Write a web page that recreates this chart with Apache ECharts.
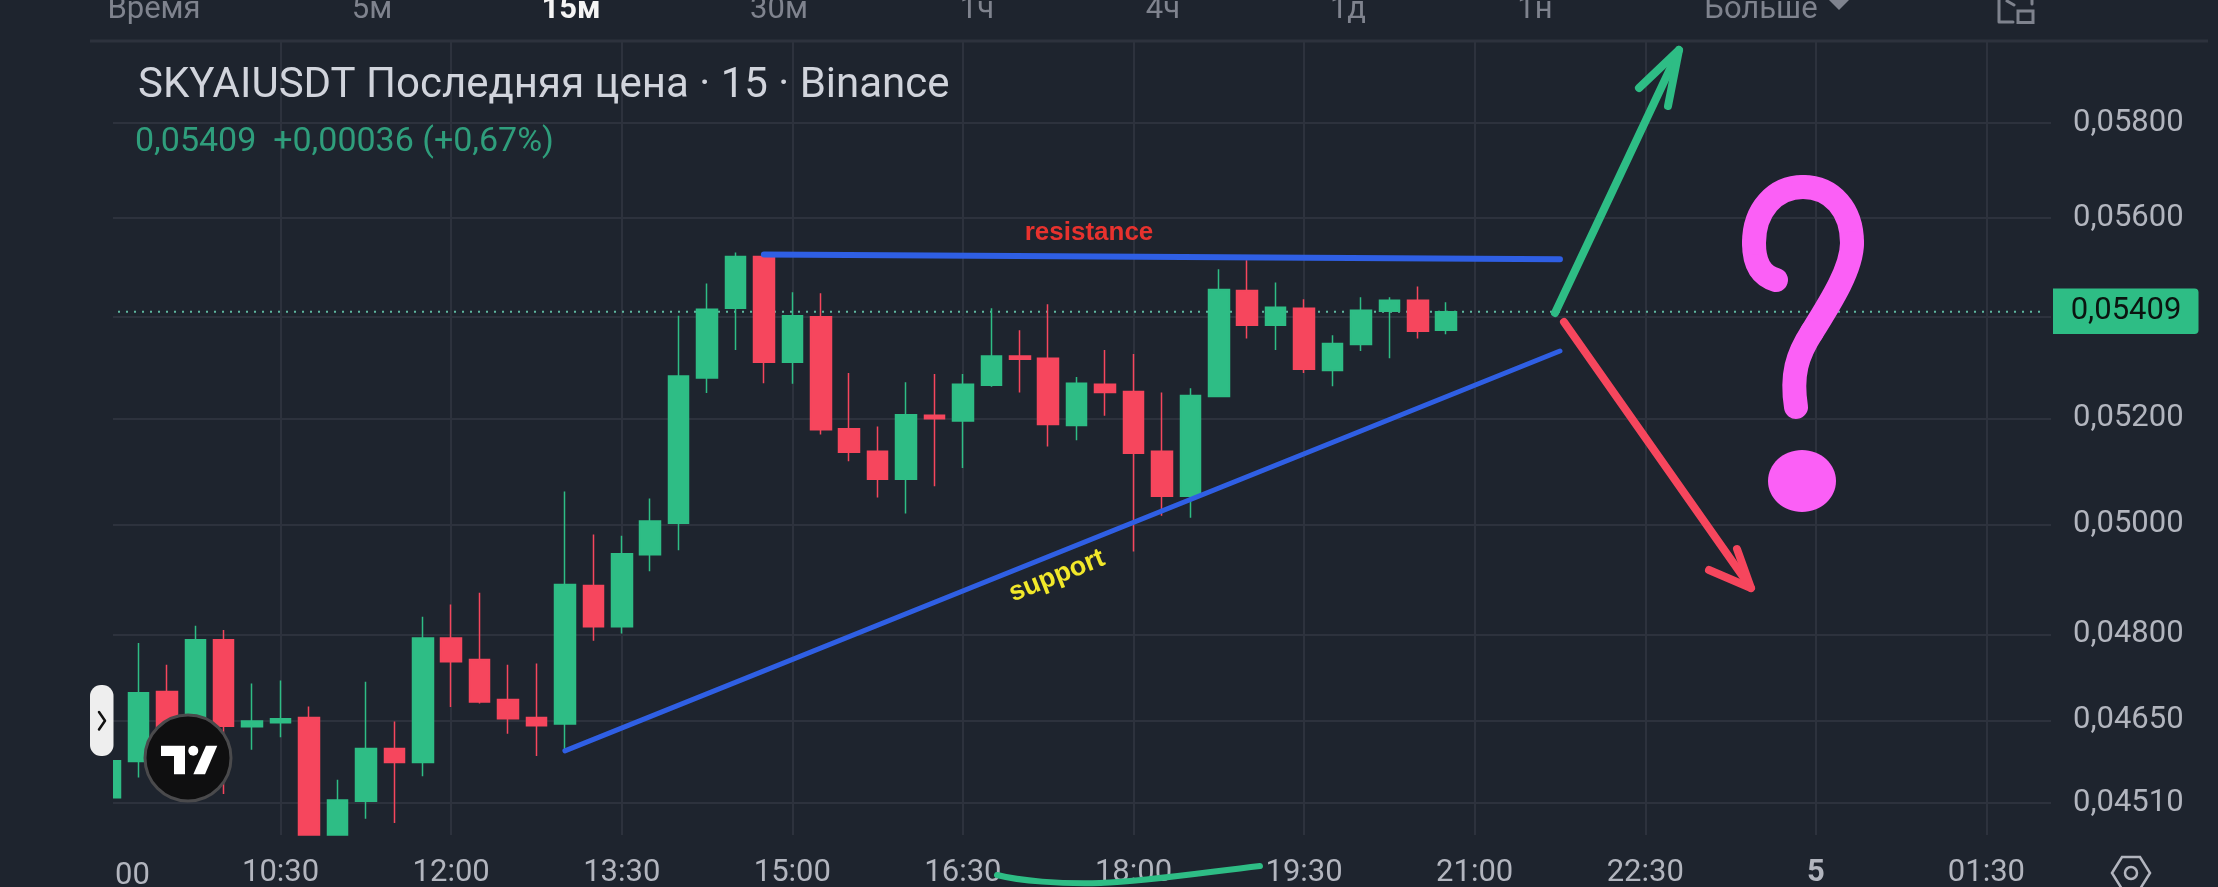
<!DOCTYPE html>
<html><head><meta charset="utf-8">
<style>html,body{margin:0;padding:0;background:#1e242e;overflow:hidden}#c{width:2218px;height:887px}</style>
<script src="https://cdn.jsdelivr.net/npm/echarts@6/dist/echarts.min.js"></script>
</head><body><div id="c"></div>
<script>
const categories = ['09:00','09:15','09:30','09:45','10:00','10:15','10:30','10:45','11:00','11:15','11:30','11:45','12:00','12:15','12:30','12:45','13:00','13:15','13:30','13:45','14:00','14:15','14:30','14:45','15:00','15:15','15:30','15:45','16:00','16:15','16:30','16:45','17:00','17:15','17:30','17:45','18:00','18:15','18:30','18:45','19:00','19:15','19:30','19:45','20:00','20:15','20:30','20:45','21:00','21:15','21:30','21:45','22:00','22:15','22:30','22:45','23:00','23:15','23:30','23:45','00:00','00:15','00:30','00:45','01:00','01:15','01:30','01:45','02:00'];
const opens = [.04519,.0458,.047,.04641,.04791,.04639,.04646,.04655,.04457,.04513,.04602,.04578,.04794,.04756,.04686,.04655,.04644,.04888,.04814,.04944,.05002,.05278,.05416,.05521,.05309,.05399,.0518,.05137,.05084,.05206,.05195,.05264,.05321,.05317,.05186,.05266,.05252,.05137,.05052,.05242,.05452,.05382,.05416,.05293,.05344,.0541,.05432,.05372];
const closes = [.04581,.04698,.04634,.04791,.0464,.04649,.04653,.04457,.04515,.04602,.04578,.04794,.04752,.04682,.04653,.04641,.0489,.04814,.04946,.05006,.05282,.05414,.05521,.05309,.05401,.05178,.05135,.05084,.05207,.05199,.05266,.05321,.05315,.05188,.05268,.0525,.05133,.05052,.05244,.05454,.05382,.05418,.05295,.05346,.05412,.05432,.0537,.05409];
const lows = [.04507,.04553,.04617,.04629,.04525,.046,.04621,.04457,.04457,.04484,.04477,.04555,.04673,.04679,.04627,.04589,.046,.04789,.04802,.04914,.04952,.05249,.05333,.05268,.05267,.05169,.05118,.0505,.0502,.05071,.05105,.05261,.0525,.05146,.05158,.05205,.0495,.05016,.05012,.05242,.05356,.05333,.05288,.05262,.05331,.05317,.05356,.05364];
const highs = [.046,.04785,.04747,.04816,.04808,.04714,.04719,.04674,.04549,.04717,.04648,.04832,.04854,.04875,.04747,.04749,.05061,.04981,.04979,.05048,.05401,.05466,.05529,.05525,.05448,.05446,.05288,.05184,.0527,.05286,.05286,.05416,.05372,.05424,.0528,.05333,.05325,.0525,.05258,.05495,.05513,.05468,.05434,.05362,.05438,.05438,.0546,.05428];
const priceTicks = [.0451,.0465,.048,.05,.052,.054,.056,.058];
const priceLabelTicks = [.0451,.0465,.048,.05,.052,.056,.058];
const lastPriceLine = [['09:00',.05409],['02:00',.05409]];
const supportLine = [['13:00',.04598],['21:45',.05331]];
const resistanceLine = [['14:45',.05525],['21:45',.05515]];
const tabs = [['Время',154],['5м',372],['15м',571],['30м',779],['1ч',977],['4ч',1163],['1д',1348],['1н',1535],['Больше',1761]];

const BG='#1e242e', GRID='#2d323d', GREEN='#2ebd85', RED='#f6465d', BLUE='#2f5fe4', MUTED='#b2b5be', TAB='#7f838e', PINK='#fb5ff6';
const F='Roboto';
const chart = echarts.init(document.getElementById('c'),null,{renderer:'canvas'});
const txt=(x,y,t,size,fill,extra)=>({type:'text',z:200,silent:true,x,y,style:Object.assign({text:t,font:`${(extra&&extra.w)||400} ${size}px ${(extra&&extra.f)||F}`,fill,textAlign:(extra&&extra.a)||'left',textVerticalAlign:'middle'},(extra&&extra.s)||{}),rotation:(extra&&extra.r)||0});
const poly=(pts,color,w,z)=>({type:'polyline',z:z||150,silent:true,shape:{points:pts},style:{stroke:color,lineWidth:w,lineCap:'round',lineJoin:'round',fill:null}});
const bez=(s,color,w)=>({type:'bezierCurve',z:150,silent:true,shape:{x1:s[0],y1:s[1],cpx1:s[2],cpy1:s[3],cpx2:s[4],cpy2:s[5],x2:s[6],y2:s[7]},style:{stroke:color,lineWidth:w,lineCap:'round',fill:null}});
const graphics=[
 {type:'rect',z:90,silent:true,shape:{x:90,y:42,width:23,height:795},style:{fill:BG}},
 {type:'rect',z:90,silent:true,shape:{x:2051,y:42,width:8,height:795},style:{fill:BG}},
 {type:'line',z:91,silent:true,shape:{x1:90,y1:41,x2:2208,y2:41},style:{stroke:GRID,lineWidth:3}},
 txt(115,876,'00',31,MUTED),
 txt(138,86,'SKYAIUSDT Последняя цена · 15 · Binance',42,'#d1d4dc'),
 txt(135,142,'0,05409  +0,00036 (+0,67%)',34,'#2f9e7c'),
 {type:'rect',z:110,silent:true,shape:{x:2053,y:288.5,width:145.5,height:45.5,r:[0,4,4,0]},style:{fill:GREEN}},
 txt(2126,311,'0,05409',31,'#0b1410',{a:'center'}),
 poly([[1555,313],[1679,50]],GREEN,8), poly([[1639,88],[1679,50],[1668,106]],GREEN,8),
 poly([[1564,322],[1751,588]],RED,8), poly([[1709,570],[1751,588],[1737,549]],RED,8),
 bez([1776,280,1760,275,1754,262,1754,243],PINK,24),
 bez([1754,243,1754,210,1775,187,1803,187],PINK,24),
 bez([1803,187,1832,187,1852,210,1852,243],PINK,24),
 bez([1852,243,1852,268,1832,300,1812,332],PINK,24),
 bez([1812,332,1797,355,1791,375,1796,407],PINK,24),
 {type:'ellipse',z:150,silent:true,shape:{cx:1802,cy:481,rx:34,ry:31},style:{fill:PINK}},
 txt(1089,233,'resistance',26,'#e8322e',{w:700,f:'Liberation Sans',a:'center',s:{shadowColor:'#000',shadowBlur:4}}),
 txt(1057,576,'support',27,'#f2e82a',{w:700,f:'Liberation Sans',a:'center',r:0.38,s:{shadowColor:'#000',shadowBlur:4}}),
 bez([997,875,1020,881,1060,884,1100,883],GREEN,6),
 bez([1100,883,1150,881,1200,873,1260,866],GREEN,6),
 {type:'rect',z:160,silent:true,shape:{x:90,y:685,width:23.5,height:71,r:11},style:{fill:'#eeeeee'}},
 poly([[99,712],[105,720.7],[99,729.5]],'#111',2.5,165),
 {type:'circle',z:170,silent:true,shape:{cx:188,cy:758,r:43},style:{fill:'#0f0f10',stroke:'#4a4a4c',lineWidth:3}},
 {type:'polygon',z:171,silent:true,shape:{points:[[161,745.7],[185,745.7],[185,774.3],[174,774.3],[174,756],[161,756]]},style:{fill:'#fff'}},
 {type:'circle',z:171,silent:true,shape:{cx:193.3,cy:750.7,r:5},style:{fill:'#fff'}},
 {type:'polygon',z:171,silent:true,shape:{points:[[206,745.7],[217.3,745.7],[205,774.3],[193.3,774.3]]},style:{fill:'#fff'}},
 {type:'polygon',z:171,silent:true,shape:{points:[[2112,873],[2122,857],[2140,857],[2150,873],[2140,889],[2122,889]]},style:{stroke:MUTED,lineWidth:2.5,fill:null}},
 {type:'circle',z:171,silent:true,shape:{cx:2131,cy:873,r:6},style:{stroke:MUTED,lineWidth:2.5,fill:null}},
 poly([[1999,0],[1999,22],[2013,22]],TAB,3),
 {type:'rect',z:171,silent:true,shape:{x:2018,y:11,width:15,height:11.5},style:{stroke:TAB,lineWidth:3,fill:null}},
 poly([[2032,0],[2032,4]],TAB,3),
 poly([[2007,1],[2014,5]],TAB,3),
 {type:'polygon',z:171,silent:true,shape:{points:[[1829,0],[1849,0],[1839,10]]},style:{fill:TAB}}
];
tabs.forEach(([t,x])=>graphics.push(txt(x,10.5,t,31,t==='15м'?'#f5f5f5':TAB,{a:'center',w:t==='15м'?700:400})));

const option={
 backgroundColor:BG,animation:false,
 grid:{left:95.8,right:160.5,top:41,bottom:52,outerBoundsMode:'none'},
 xAxis:{type:'category',data:categories,boundaryGap:true,
  axisLine:{show:false},axisTick:{show:false},
  axisLabel:{color:MUTED,fontFamily:F,fontSize:31,margin:23,hideOverlap:false,
   interval:(i)=>i>0&&i%6===0,
   formatter:(v)=>v==='00:00'?'{b|5}':v,rich:{b:{fontFamily:F,fontSize:31,fontWeight:700,color:MUTED}}},
  splitLine:{show:true,alignWithLabel:true,interval:(i)=>i>0&&i%6===0&&i<68,lineStyle:{color:GRID,width:2}}},
 yAxis:{type:'log',logBase:10,position:'right',min:.04457,max:.05979,
  axisLine:{show:false},axisTick:{show:false,customValues:priceTicks},
  axisLabel:{color:MUTED,fontFamily:F,fontSize:31,margin:15.5,customValues:priceLabelTicks,formatter:(v)=>v.toFixed(5).replace('.',',')},
  splitLine:{show:true,lineStyle:{color:GRID,width:2}}},
 graphic:{elements:graphics},
 series:[
  {type:'line',data:lastPriceLine,showSymbol:false,symbol:'none',z:1,lineStyle:{color:'#5fb8a0',type:[2,6],width:2}},
  {type:'candlestick',barWidth:21,clip:true,
   data:opens.map((o,i)=>[o,closes[i],lows[i],highs[i]]),
   itemStyle:{color:GREEN,color0:RED,borderColor:GREEN,borderColor0:RED,borderWidth:1.5}},
  {type:'line',data:supportLine,showSymbol:false,symbol:'none',z:5,lineStyle:{color:BLUE,width:5,cap:'round'}},
  {type:'line',data:resistanceLine,showSymbol:false,symbol:'none',z:5,lineStyle:{color:BLUE,width:6,cap:'round'}}
 ]
};
chart.setOption(option);
</script></body></html>
